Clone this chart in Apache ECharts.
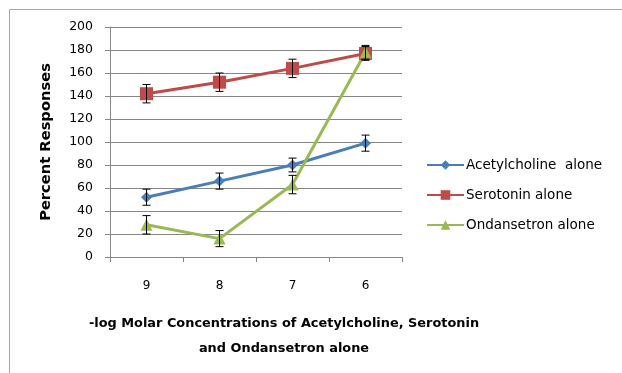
<!DOCTYPE html>
<html><head><meta charset="utf-8">
<script src="https://cdn.jsdelivr.net/npm/echarts@6/dist/echarts.min.js"></script>
<style>html,body{margin:0;padding:0;background:#fff}#c{width:622px;height:373px}</style>
</head><body><div id="c"></div>
<script>
var categories = ['9', '8', '7', '6'];
var achValues = [52, 66, 80, 99];
var achErr = [7, 7, 6, 7];
var serValues = [142, 152, 164, 177];
var serErr = [8, 8, 8, 6];
var ondValues = [28, 16, 63, 178];
var ondErr = [8, 7, 8, 6];
var seriesNames = ['Acetylcholine  alone', 'Serotonin alone', 'Ondansetron alone'];
var colors = ['#4A7EBB', '#BE4B48', '#98B954'];
var FONT = '"DejaVu Sans", sans-serif';

function errSeries(vals, errs) {
  return {
    type: 'custom', silent: true, z: 5,
    data: vals.map(function (v, i) { return [i, v - errs[i], v + errs[i]]; }),
    renderItem: function (params, api) {
      var lo = api.coord([api.value(0), api.value(1)]);
      var hi = api.coord([api.value(0), api.value(2)]);
      var w = 4;
      var st = { stroke: '#000', lineWidth: 1 };
      return { type: 'group', children: [
        { type: 'line', shape: { x1: lo[0], y1: lo[1], x2: hi[0], y2: hi[1] }, style: st },
        { type: 'line', shape: { x1: lo[0] - w, y1: lo[1], x2: lo[0] + w, y2: lo[1] }, style: st },
        { type: 'line', shape: { x1: hi[0] - w, y1: hi[1], x2: hi[0] + w, y2: hi[1] }, style: st }
      ]};
    }
  };
}
function lineSeries(name, vals, color, symbol, size) {
  return { name: name, type: 'line', data: vals, color: color, symbol: symbol, symbolSize: size,
    lineStyle: { width: 3, color: color }, itemStyle: { color: color }, z: 3 };
}
var chart = echarts.init(document.getElementById('c'));
chart.setOption({
  animation: false,
  graphic: [{ type: 'rect', shape: { x: 9.5, y: 9.5, width: 700, height: 500 }, style: { fill: 'none', stroke: '#a6a6a6', lineWidth: 1 } }],
  grid: { left: 110, right: 220, top: 27, bottom: 116 },
  legend: {
    orient: 'vertical', left: 421, top: 153, itemGap: 16, itemWidth: 37, itemHeight: 12,
    textStyle: { fontFamily: FONT, fontSize: 13.5, color: '#000', padding: [0, 0, 0, -3] },
    data: seriesNames
  },
  xAxis: {
    type: 'category', data: categories, boundaryGap: true,
    axisLine: { lineStyle: { color: '#868686' } },
    axisTick: { show: true, length: 5, lineStyle: { color: '#868686' } },
    axisLabel: { fontFamily: FONT, fontSize: 12, color: '#000', margin: 23 },
    name: '-log Molar Concentrations of Acetylcholine, Serotonin\nand Ondansetron alone',
    nameLocation: 'middle', nameGap: 54,
    nameTextStyle: { fontFamily: FONT, fontSize: 12.9, fontWeight: 'bold', color: '#000', lineHeight: 25, padding: [0, 0, 0, 56] }
  },
  yAxis: {
    type: 'value', min: 0, max: 200, interval: 20,
    axisLine: { show: true, lineStyle: { color: '#868686' } },
    axisTick: { show: true, length: 5, lineStyle: { color: '#868686' } },
    splitLine: { lineStyle: { color: '#868686' } },
    axisLabel: { fontFamily: FONT, fontSize: 12.5, color: '#000', margin: 17 },
    name: 'Percent Responses', nameLocation: 'middle', nameGap: 56,
    nameTextStyle: { fontFamily: FONT, fontSize: 14.7, fontWeight: 'bold', color: '#000' }
  },
  series: [
    lineSeries(seriesNames[0], achValues, colors[0], 'diamond', 11),
    lineSeries(seriesNames[1], serValues, colors[1], 'rect', 13),
    lineSeries(seriesNames[2], ondValues, colors[2], 'triangle', 12),
    errSeries(achValues, achErr),
    errSeries(serValues, serErr),
    errSeries(ondValues, ondErr)
  ]
});
</script></body></html>
